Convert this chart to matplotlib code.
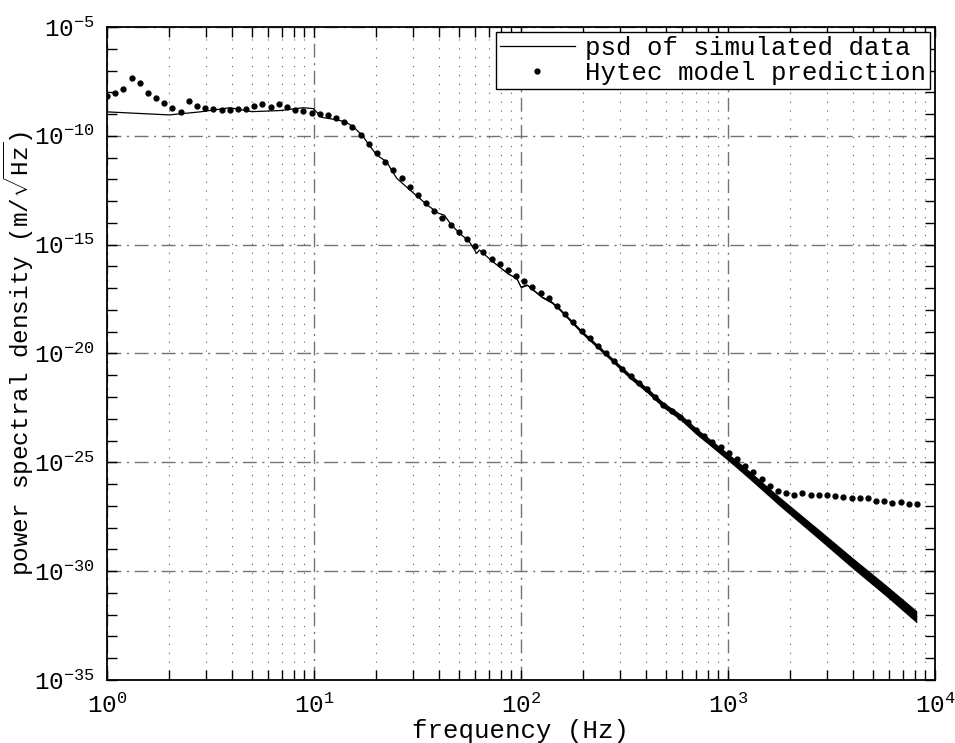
import matplotlib
matplotlib.use('Agg')
import matplotlib.pyplot as plt
import numpy as np
from matplotlib.ticker import FixedLocator, FuncFormatter, NullFormatter

# ---------------- data ----------------
# psd of simulated data: frequency (Hz) and log10 of the level (m/sqrt(Hz))
psd_freq = [1.0, 1.41, 2.0, 2.82, 3.93, 5.01, 6.85, 8.87, 9.93, 10.9, 12.6, 14.1,
            15.5, 17.3, 18.3, 20.1, 22.4, 25.1, 29.1, 33.1, 35.5, 39.8, 42.7, 45.7,
            50.1, 56.2, 61.1, 63.1, 67.6, 72.4, 79.4, 87.1, 95.5, 100.0, 107.0, 117.0,
            126.0, 141.0, 155.0, 196.0, 255.0, 337.0, 405.0, 486.0, 586.0, 706.0,
            849.0, 1000.0, 1259.0, 1778.0, 2780.0, 4027.0, 5848.0, 8166.0]
psd_exp = [-8.90, -8.97, -9.04, -8.90, -8.71, -8.89, -8.84, -8.71, -8.75, -9.15, -9.25, -9.35,
           -9.58, -10.04, -10.37, -10.88, -11.19, -11.95, -12.49, -12.95, -13.20, -13.55, -13.65, -14.05,
           -14.45, -14.85, -15.40, -15.25, -15.50, -15.75, -16.05, -16.35, -16.55, -16.95, -16.85, -17.15,
           -17.40, -17.65, -18.00, -19.00, -19.99, -21.06, -21.67, -22.36, -22.90, -23.59,
           -24.20, -24.75, -25.55, -26.80, -28.35, -29.65, -30.92, -32.10]
# half-width (decades) of the noisy band of the simulated psd
psd_spread = [0.0, 0.0, 0.0, 0.0, 0.0, 0.0, 0.0, 0.0, 0.0, 0.0, 0.0, 0.0,
              0.0, 0.0, 0.0, 0.0, 0.0, 0.0, 0.0, 0.0, 0.0, 0.0, 0.0, 0.0,
              0.0, 0.0, 0.0, 0.0, 0.0, 0.0, 0.02, 0.02, 0.02, 0.03, 0.03, 0.04,
              0.04, 0.05, 0.06, 0.08, 0.09, 0.11, 0.12, 0.13, 0.14, 0.15,
              0.16, 0.17, 0.19, 0.21, 0.23, 0.25, 0.26, 0.28]

# Hytec model prediction: frequency (Hz) and log10 of the level
hytec_freq = [1.000, 1.095, 1.200, 1.314, 1.439, 1.576, 1.726, 1.891, 2.071, 2.269,
              2.485, 2.722, 2.981, 3.265, 3.576, 3.917, 4.290, 4.699, 5.147, 5.637,
              6.174, 6.763, 7.407, 8.113, 8.886, 9.733, 10.66, 11.68, 12.79, 14.01,
              15.34, 16.81, 18.41, 20.16, 22.08, 24.19, 26.49, 29.02, 31.78, 34.81,
              38.13, 41.76, 45.74, 50.09, 54.87, 60.10, 65.82, 72.09, 78.96, 86.49,
              94.73, 103.8, 113.6, 124.5, 136.3, 149.3, 163.6, 179.1, 196.2, 214.9,
              235.4, 257.8, 282.4, 309.3, 338.8, 371.1, 406.4, 445.2, 487.6, 534.1,
              584.9, 640.7, 701.7, 768.6, 841.8, 922.0, 1010.0, 1106.0, 1211.0, 1327.0,
              1453.0, 1592.0, 1743.0, 1910.0, 2092.0, 2291.0, 2509.0, 2748.0, 3010.0, 3297.0,
              3611.0, 3955.0, 4332.0, 4745.0, 5197.0, 5692.0, 6234.0, 6828.0, 7479.0, 8192.0]
hytec_exp = [-8.16, -8.05, -7.83, -7.33, -7.57, -8.03, -8.28, -8.48, -8.71, -8.90,
             -8.40, -8.63, -8.72, -8.78, -8.81, -8.83, -8.78, -8.75, -8.63, -8.52,
             -8.69, -8.55, -8.69, -8.80, -8.87, -8.95, -9.01, -9.06, -9.19, -9.38,
             -9.61, -9.95, -10.36, -10.77, -11.19, -11.58, -11.95, -12.33, -12.70, -13.07,
             -13.44, -13.79, -14.10, -14.43, -14.74, -15.05, -15.35, -15.64, -15.90, -16.16,
             -16.44, -16.67, -16.93, -17.20, -17.46, -17.82, -18.20, -18.55, -18.95, -19.30,
             -19.65, -20.00, -20.35, -20.70, -21.05, -21.35, -21.65, -22.00, -22.35, -22.65,
             -22.90, -23.16, -23.50, -23.80, -24.05, -24.28, -24.58, -24.86, -25.15, -25.45,
             -25.76, -26.08, -26.30, -26.42, -26.49, -26.41, -26.48, -26.48, -26.50, -26.55,
             -26.58, -26.64, -26.65, -26.63, -26.76, -26.77, -26.88, -26.83, -26.90, -26.92]

x_major = [1e0, 1e1, 1e2, 1e3, 1e4]
y_major_exp = [-35, -30, -25, -20, -15, -10, -5]

legend_labels = ['psd of simulated data', 'Hytec model prediction']
x_label = 'frequency (Hz)'
y_label = r'power spectral density (m/$\sqrt{\mathrm{Hz}}$)'

# ---------------- style ----------------
plt.rcParams['font.family'] = ['Liberation Mono', 'DejaVu Sans']
plt.rcParams['mathtext.fontset'] = 'custom'
plt.rcParams['mathtext.rm'] = 'Liberation Mono'
plt.rcParams['mathtext.it'] = 'Liberation Mono:italic'
plt.rcParams['mathtext.bf'] = 'Liberation Mono:bold'

fig = plt.figure(figsize=(9.55, 7.43), dpi=100)
ax = fig.add_axes([0.112, 0.0848, 0.867, 0.8789])

pf = np.array(psd_freq)
pe = np.array(psd_exp)
ps = np.array(psd_spread)
ax.fill_between(pf, 10.0 ** (pe - ps), 10.0 ** (pe + ps), color='k', lw=0, zorder=3)
ax.plot(pf, 10.0 ** pe, color='k', lw=0.9, label=legend_labels[0], zorder=4)
ax.plot(hytec_freq, 10.0 ** np.array(hytec_exp), ls='none', marker='o', ms=3.5,
        color='k', label=legend_labels[1], zorder=5)

ax.set_xscale('log')
ax.set_yscale('log')
ax.set_xlim(1, 1e4)
ax.set_ylim(1e-35, 1e-5)

ax.xaxis.set_major_locator(FixedLocator(x_major))
x_minor = [m * d for d in [1e0, 1e1, 1e2, 1e3] for m in range(2, 10)]
ax.xaxis.set_minor_locator(FixedLocator(x_minor))
ax.xaxis.set_major_formatter(FuncFormatter(lambda v, p: r'$10^{%d}$' % int(round(np.log10(v)))))
ax.xaxis.set_minor_formatter(NullFormatter())

ax.yaxis.set_major_locator(FixedLocator([10.0 ** e for e in y_major_exp]))
y_minor = [10.0 ** e for e in range(-35, -4) if e not in y_major_exp]
ax.yaxis.set_minor_locator(FixedLocator(y_minor))
ax.yaxis.set_major_formatter(FuncFormatter(lambda v, p: r'$10^{%d}$' % int(round(np.log10(v)))))
ax.yaxis.set_minor_formatter(NullFormatter())

ax.tick_params(which='both', direction='in', top=True, right=True, length=7, width=1, color='k')
ax.tick_params(axis='y', which='major', labelsize=17.5, pad=9)
ax.tick_params(axis='x', which='major', labelsize=17.5, pad=10)

ax.grid(which='major', linestyle=(0, (10, 4, 1.5, 4)), color='0.45', lw=1.0)
ax.xaxis.grid(which='minor', linestyle=(0, (1, 7)), color='0.35', lw=0.8)
ax.yaxis.grid(which='minor', visible=False)
ax.set_axisbelow(True)

for s in ax.spines.values():
    s.set_linewidth(1.3)

ax.set_xlabel(x_label, fontsize=18.5)
ax.xaxis.set_label_coords(0.5, -0.06)
ax.set_ylabel(y_label, fontsize=17.5)
ax.yaxis.set_label_coords(-0.086, 0.5)

leg = ax.legend(loc='upper right', fontsize=18.5, frameon=True, fancybox=False,
                edgecolor='k', framealpha=1, borderaxespad=0.2, borderpad=0.15,
                handlelength=2.9, handletextpad=0.4, labelspacing=0.05, numpoints=1)
leg.get_frame().set_linewidth(1.0)

fig.savefig('out.png', dpi=100)
